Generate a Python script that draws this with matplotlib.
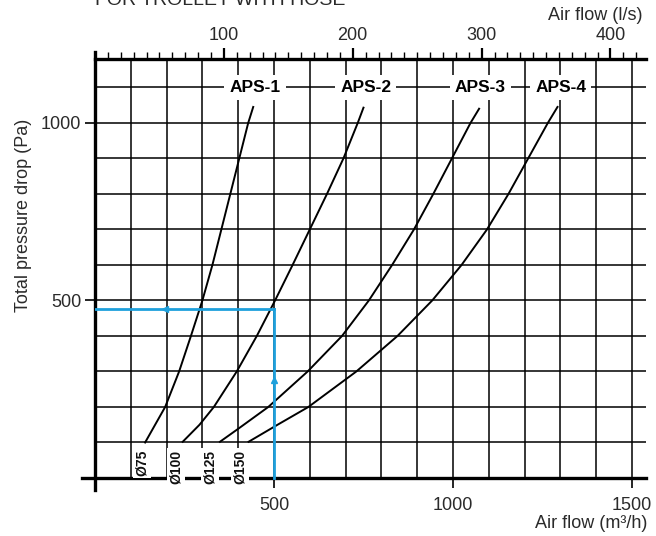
import numpy as np
import matplotlib
matplotlib.use("Agg")
import matplotlib.pyplot as plt

plt.rcParams['font.family'] = ['Liberation Sans', 'DejaVu Sans']

# =========================
# Dados
# =========================
aps1_q = [140, 196, 235, 268, 300, 328, 353, 378, 403, 428, 442]
aps1_p = [100, 200, 300, 400, 500, 600, 700, 800, 900, 1000, 1045]

aps2_q = [245, 292, 332, 396, 452, 503, 552, 600, 648, 694, 734, 750]
aps2_p = [102, 150, 200, 300, 400, 500, 600, 700, 800, 900, 1000, 1043]

aps3_q = [349, 402, 484, 594, 690, 765, 830, 891, 945, 997, 1049, 1073]
aps3_p = [102, 140, 200, 300, 400, 500, 600, 700, 800, 900, 1000, 1040]

aps4_q = [429, 510, 596, 730, 845, 942, 1024, 1095, 1155, 1210, 1265, 1292]
aps4_p = [102, 150, 200, 300, 400, 500, 600, 700, 800, 900, 1000, 1045]

curvas = [(aps1_q, aps1_p), (aps2_q, aps2_p), (aps3_q, aps3_p), (aps4_q, aps4_p)]
nomes = ["APS-1", "APS-2", "APS-3", "APS-4"]
nomes_q = [447, 756, 1077, 1301]
nome_p = 1100

diametros = ["Ø75", "Ø100", "Ø125", "Ø150"]
diametros_q = [131, 226, 321, 405]

ponto_q = 500
ponto_p = 475

xmax, ymax = 1540, 1180
azul = '#1ea0dc'
cor_txt = '#2a2a2a'

# =========================
# Figura
# =========================
fig = plt.figure(figsize=(6.56, 5.36), dpi=100)
ax = fig.add_axes([0.1448, 0.1082, 0.8404, 0.7817])
ax.set_xlim(0, xmax)
ax.set_ylim(0, ymax)
for s in ax.spines.values():
    s.set_visible(False)

ax.set_xticks([500, 1000, 1500])
ax.set_xticks(np.arange(100, 1501, 100), minor=True)
ax.set_yticks([500, 1000])
ax.set_yticks(np.arange(100, 1101, 100), minor=True)
ax.tick_params(axis='x', which='major', direction='out', length=7, width=1.2,
               labelsize=13, labelcolor=cor_txt, pad=7)
ax.tick_params(axis='y', which='major', direction='out', length=7, width=1.2,
               labelsize=13, labelcolor=cor_txt, pad=3)
ax.tick_params(which='minor', length=0)
ax.grid(which='both', color='black', linewidth=1.1)
ax.set_axisbelow(True)

# linhas dos eixos (cruzando na origem)
ax.plot([-35, xmax], [0, 0], color='black', lw=2.4, clip_on=False, zorder=4)
ax.plot([0, 0], [-35, ymax + 20], color='black', lw=2.4, clip_on=False, zorder=4)
ax.plot([0, xmax], [ymax, ymax], color='black', lw=2.4, clip_on=False, zorder=4)

# eixo superior em l/s
sec = ax.secondary_xaxis('top', functions=(lambda x: x / 3.6, lambda x: x * 3.6))
sec.spines['top'].set_visible(False)
sec.set_xticks([100, 200, 300, 400])
sec.set_xticks(np.arange(0, 421, 10), minor=True)
sec.tick_params(which='major', direction='out', length=8, width=1.6,
                labelsize=13, labelcolor=cor_txt, pad=3)
sec.tick_params(which='minor', direction='out', length=5, width=1.0)

# curvas
for q, p in curvas:
    ax.plot(q, p, color='black', lw=1.4, zorder=3, solid_joinstyle='round')

for nome, q in zip(nomes, nomes_q):
    ax.text(q, nome_p, nome, ha='center', va='center', fontsize=12.5,
            fontweight='bold', color='black', zorder=5,
            bbox=dict(boxstyle='square,pad=0.3', fc='white', ec='none'))

for d, q in zip(diametros, diametros_q):
    ax.text(q, 80, d, rotation=90, ha='center', va='top', fontsize=10,
            fontweight='bold', color='#111111', zorder=5, clip_on=False,
            bbox=dict(boxstyle='square,pad=0.12', fc='white', ec='none'))

# ponto de operação
ax.plot([ponto_q, ponto_q], [0, ponto_p], color=azul, lw=2.0, zorder=6, clip_on=False)
ax.plot([0, ponto_q], [ponto_p, ponto_p], color=azul, lw=2.0, zorder=6)
ax.plot([ponto_q], [ponto_p * 0.58], marker='^', color=azul, ms=4, zorder=6)
ax.plot([ponto_q * 0.39], [ponto_p], marker='<', color=azul, ms=4, zorder=6)

# textos
fig.text(95 / 656, 1 - 5 / 536, "FOR TROLLEY WITH HOSE", fontsize=14,
         va='baseline', ha='left', color=cor_txt)
fig.text(642 / 656, 1 - 15 / 536, "Air flow (l/s)", fontsize=13,
         ha='right', va='center', color=cor_txt)
fig.text(647 / 656, 1 - 524 / 536, "Air flow (m³/h)", fontsize=13,
         ha='right', va='center', color=cor_txt)
fig.text(23 / 656, 1 - 215 / 536, "Total pressure drop (Pa)", fontsize=13,
         rotation=90, ha='center', va='center', color=cor_txt)

fig.savefig("out.png", dpi=100)
plt.close(fig)
